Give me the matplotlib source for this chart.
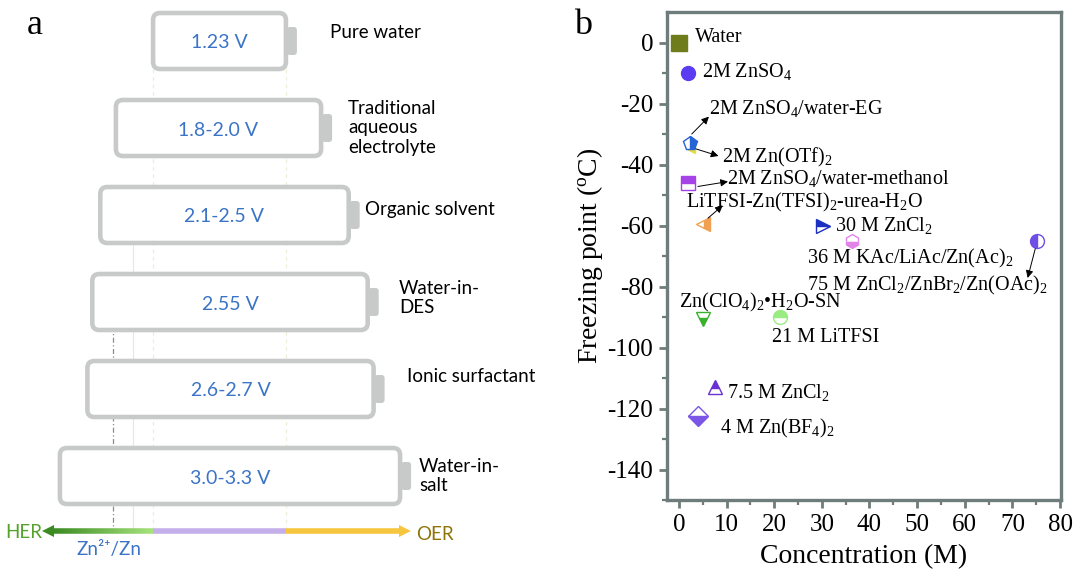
import numpy as np
import matplotlib
matplotlib.use("Agg")
import matplotlib.pyplot as plt
from matplotlib.patches import FancyBboxPatch
from matplotlib.collections import LineCollection
from matplotlib.colors import to_rgb

plt.rcParams['mathtext.fontset'] = 'custom'
plt.rcParams['mathtext.rm'] = 'Liberation Serif'
plt.rcParams['mathtext.it'] = 'Liberation Serif:italic'
plt.rcParams['axes.unicode_minus'] = False

SERIF = 'Liberation Serif'
SANS = ['Lato', 'DejaVu Sans']

# ---------------- panel a data ----------------
windows = ['1.23 V', '1.8-2.0 V', '2.1-2.5 V', '2.55 V', '2.6-2.7 V', '3.0-3.3 V']
window_mid = [1.23, 1.9, 2.3, 2.55, 2.65, 3.15]
systems = ['Pure water', 'Traditional\naqueous\nelectrolyte', 'Organic solvent',
           'Water-in-\nDES', 'Ionic surfactant', 'Water-in-\nsalt']

# ---------------- panel b data ----------------
names = ['Water', '2M ZnSO$_\\mathrm{4}$', '2M ZnSO$_\\mathrm{4}$/water-EG', '2M Zn(OTf)$_\\mathrm{2}$',
         '2M ZnSO$_\\mathrm{4}$/water-methanol', 'LiTFSI-Zn(TFSI)$_\\mathrm{2}$-urea-H$_\\mathrm{2}$O',
         '30 M ZnCl$_\\mathrm{2}$', '36 M KAc/LiAc/Zn(Ac)$_\\mathrm{2}$',
         '75 M ZnCl$_\\mathrm{2}$/ZnBr$_\\mathrm{2}$/Zn(OAc)$_\\mathrm{2}$',
         'Zn(ClO$_\\mathrm{4}$)$_\\mathrm{2}$\u2022H$_\\mathrm{2}$O-SN', '21 M LiTFSI',
         '7.5 M ZnCl$_\\mathrm{2}$', '4 M Zn(BF$_\\mathrm{4}$)$_\\mathrm{2}$']
conc = [0, 2, 2.3, 2.5, 2, 5, 30.2, 36.3, 75.2, 5, 21.2, 7.5, 4]
freeze = [0, -10, -33, -35, -46, -59.5, -60, -65, -65, -90.5, -90, -113, -122.5]

# styling per point
markers = ['s', 'o', 'p', '<', 's', '<', '>', 'h', 'o', 'v', 'o', '^', 'D']
colors = ['#6e7c1c', '#5b3cf0', '#2563d6', '#e8dc3c', '#a543e8', '#f0a050', '#1b2fc0',
          '#e283ea', '#6e4ee6', '#3bb02c', '#98ec82', '#6a32d2', '#7a55e6']
fills = ['full', 'full', 'right', 'full', 'top', 'right', 'top', 'bottom', 'left',
         'bottom', 'top', 'top', 'bottom']
sizes = [11, 10, 10, 6, 10, 10, 10, 10, 10, 10, 10, 10, 10]
order = [2, 2, 4, 3, 2, 2, 2, 2, 2, 2, 2, 2, 2]
label_x = [3.4, 4.8, 6.3, 9.0, 10.0, 1.5, 32.8, 26.9, 26.9, 0.0, 19.5, 10.1, 8.6]
label_y = [1.5, -9.5, -21.5, -37.6, -44.5, -52.4, -59.9, -70.7, -79.6, -85.4, -96.6, -114.9, -126.4]
arrows = [((2.7, -30), (6.3, -24.3)), ((3.0, -34.6), (8.3, -37.2)), ((4.0, -47.2), (10.3, -45.6)),
          ((6.1, -57.6), (9.2, -53.4)), ((74.8, -67.6), (73.2, -77.2))]

fig = plt.figure(figsize=(10.8, 5.85), dpi=100)

# ================= panel a (schematic, pixel coordinates) =================
ax = fig.add_axes([0, 0, 0.5, 1])
ax.set_xlim(0, 540)
ax.set_ylim(585, 0)
ax.axis('off')

PX_PER_V = 108
centers = [219.5, 218.5, 224.5, 230, 230.5, 230]
label_left = [330, 348, 365, 399, 407, 419]
label_dy = [-8, 0, -6, -4, -13, 0]
top0, row, bh = 13, 87, 56
grey = '#c8caca'

w0 = window_mid[0] * PX_PER_V
h_left = centers[0] - w0 / 2
o_right = centers[0] + w0 / 2
bar_y = 531

# guide lines
ax.plot([h_left, h_left], [top0 + bh, bar_y], color='#ebebe0', lw=0.9, ls=(0, (3, 3)), zorder=1)
ax.plot([o_right, o_right], [top0 + bh, bar_y], color='#f0eed8', lw=0.9, ls=(0, (3, 3)), zorder=1)
ax.plot([133, 133], [240, bar_y], color='#e6e6e6', lw=0.8, zorder=1)
ax.plot([113, 113], [326, bar_y - 3], color='#8c8c8c', lw=0.9, ls=(0, (4, 2, 1, 2)), zorder=1)

for i in range(len(windows)):
    w = window_mid[i] * PX_PER_V
    left = centers[i] - w / 2
    top = top0 + row * i
    box = FancyBboxPatch((left, top), w, bh, boxstyle='round,pad=0,rounding_size=7',
                         fc='white', ec=grey, lw=3.3, zorder=3)
    ax.add_patch(box)
    nub = FancyBboxPatch((left + w + 1, top + bh / 2 - 14), 10, 28,
                         boxstyle='round,pad=0,rounding_size=3', fc=grey, ec=grey, lw=0, zorder=2)
    ax.add_patch(nub)
    ax.text(centers[i], top + bh / 2 + 2, windows[i], color='#3b74c6', fontsize=14,
            family=SANS, ha='center', va='center', zorder=4)
    ax.text(label_left[i], top + bh / 2 + label_dy[i], systems[i], color='black', fontsize=13.5,
            family=SANS, ha='left', va='center', linespacing=1.15, zorder=4)

# HER / OER bar
n = 60
xs = np.linspace(52, h_left, n + 1)
c1, c2 = np.array(to_rgb('#3b8a22')), np.array(to_rgb('#a6e27c'))
segs = [[(xs[k], bar_y), (xs[k + 1], bar_y)] for k in range(n)]
cols = [c1 + (c2 - c1) * k / (n - 1) for k in range(n)]
ax.add_collection(LineCollection(segs, colors=cols, linewidths=4, zorder=3))
ax.plot(48, bar_y, marker='<', ms=8, color='#3b8a22', mew=0, zorder=3)
ax.plot([h_left, o_right], [bar_y, bar_y], color='#c4afea', lw=4, solid_capstyle='butt', zorder=3)
ax.plot([o_right, 402], [bar_y, bar_y], color='#f5c63e', lw=4, solid_capstyle='butt', zorder=3)
ax.plot(405, bar_y, marker='>', ms=8, color='#f5c63e', mew=0, zorder=3)
ax.text(5, bar_y + 1, 'HER', color='#55a22c', fontsize=13.5, family=SANS, ha='left', va='center')
ax.text(416, bar_y + 4, 'OER', color='#8f7408', fontsize=13.5, family=SANS, ha='left', va='center')
ax.text(76, bar_y + 19, 'Zn\u00b2\u207a/Zn', color='#3b74c6', fontsize=13.5, family=SANS,
        ha='left', va='center')

fig.text(35 / 1080, 1 - 25 / 585, 'a', family=SERIF, fontsize=26, ha='center', va='center')
fig.text(583 / 1080, 1 - 25 / 585, 'b', family=SERIF, fontsize=26, ha='center', va='center')

# ================= panel b =================
bx = fig.add_axes([667 / 1080, 1 - 500 / 585, 394 / 1080, 488 / 585])
frame = '#6f7c7c'
for s in bx.spines.values():
    s.set_color(frame)
    s.set_linewidth(2.4)

for i in range(len(names)):
    bx.plot(conc[i], freeze[i], marker=markers[i], ms=sizes[i], color=colors[i],
            fillstyle=fills[i], markerfacecoloralt='white', mec=colors[i], mew=1.0,
            ls='none', zorder=order[i])
    bx.text(label_x[i], label_y[i], names[i], family=SERIF, fontsize=14.5,
            ha='left', va='center', zorder=5)

for tail, head in arrows:
    bx.annotate('', xy=head, xytext=tail,
                arrowprops=dict(arrowstyle='-|>', color='black', lw=0.7, mutation_scale=11,
                                shrinkA=0, shrinkB=0))

bx.set_xlim(-2.5, 80.2)
bx.set_ylim(-150, 10)
bx.set_xticks(np.arange(0, 81, 10))
bx.set_yticks(np.arange(-140, 1, 20))
bx.set_xticks(np.arange(5, 80, 10), minor=True)
bx.set_yticks(np.arange(-150, 10, 20), minor=True)
bx.tick_params(which='major', direction='out', length=6, width=2, color=frame,
               labelsize=18, pad=4)
bx.tick_params(which='minor', direction='out', length=3.5, width=1.6, color=frame)
for lab in bx.get_xticklabels() + bx.get_yticklabels():
    lab.set_family(SERIF)
bx.set_xlabel('Concentration (M)', family=SERIF, fontsize=20, labelpad=6)
bx.set_ylabel('Freezing point ($^\\mathrm{o}$C)', family=SERIF, fontsize=20, labelpad=2)

fig.savefig('out.png', dpi=100)
